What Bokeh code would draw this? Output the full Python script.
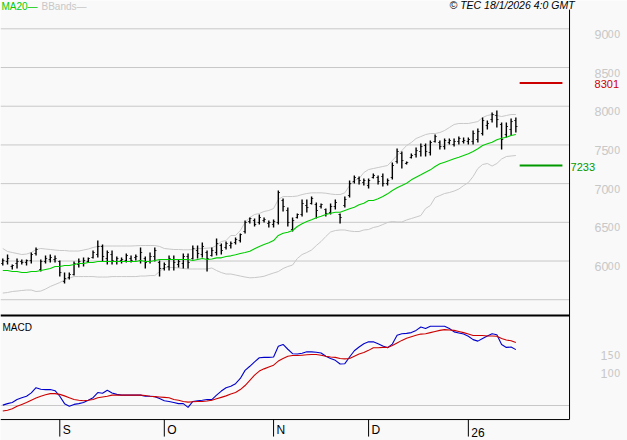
from bokeh.core.properties import value
from bokeh.embed import file_html
from bokeh.models import Label, LinearScale, Range1d
from bokeh.plotting import figure
from bokeh.resources import INLINE

# daily bars
highs = [6032, 6084, 5955, 6032, 6019, 6019, 6110, 6175, 6019, 6071, 6084, 6071, 6006, 5851, 5851, 5993, 6032, 6045, 6045, 6136,
         6265, 6213, 6136, 6136, 6058, 6045, 6097, 6071, 6084, 6175, 6058, 6110, 6175, 6006, 5981, 6071, 6071, 6019, 6097, 6097,
         6200, 6200, 6239, 6136, 6175, 6291, 6226, 6252, 6252, 6304, 6355, 6523, 6562, 6549, 6601, 6562, 6523, 6536, 6911, 6808,
         6691, 6562, 6614, 6795, 6795, 6833, 6756, 6743, 6678, 6743, 6795, 6614, 6833, 7040, 7105, 7092, 7066, 7066, 7130, 7105,
         7130, 7066, 7273, 7453, 7415, 7286, 7389, 7466, 7518, 7518, 7557, 7634, 7557, 7583, 7583, 7583, 7608, 7596, 7596, 7686,
         7712, 7854, 7815, 7919, 7944, 7789, 7789, 7841, 7854]
lows = [5942, 5955, 5890, 5903, 5955, 5942, 5968, 6071, 5864, 5968, 5981, 5981, 5799, 5709, 5761, 5812, 5916, 5929, 5981, 6032,
        6045, 5993, 5955, 5955, 5955, 5968, 5981, 5981, 6006, 5968, 5903, 5968, 5993, 5799, 5877, 5877, 5877, 5916, 5903, 5903,
        6019, 6032, 6045, 5864, 6058, 6071, 6084, 6149, 6162, 6213, 6239, 6355, 6485, 6446, 6472, 6498, 6433, 6433, 6472, 6640,
        6446, 6381, 6549, 6575, 6627, 6730, 6549, 6678, 6575, 6601, 6665, 6485, 6691, 6820, 7001, 6988, 6975, 6937, 7066, 6988,
        6963, 6975, 7053, 7260, 7195, 7247, 7324, 7337, 7350, 7350, 7363, 7531, 7440, 7440, 7505, 7479, 7505, 7518, 7505, 7505,
        7531, 7621, 7699, 7789, 7725, 7440, 7596, 7621, 7660]
opens = [5968, 5993, 5929, 5968, 5993, 5981, 6006, 6097, 5890, 5993, 6019, 6019, 5993, 5735, 5786, 5825, 5955, 5968, 5993, 6045,
         6084, 6188, 6032, 6084, 5993, 6006, 6006, 6032, 6045, 6006, 6032, 5993, 6058, 5981, 5903, 5929, 6019, 5955, 5968, 6058,
         6032, 6136, 6084, 6110, 6071, 6110, 6200, 6175, 6200, 6239, 6265, 6381, 6510, 6523, 6498, 6523, 6485, 6472, 6498, 6782,
         6653, 6407, 6562, 6601, 6717, 6743, 6730, 6704, 6665, 6627, 6704, 6601, 6717, 6846, 7027, 7066, 7014, 6975, 7079, 7079,
         7092, 7001, 7079, 7286, 7389, 7260, 7337, 7376, 7415, 7492, 7402, 7544, 7531, 7479, 7531, 7505, 7544, 7544, 7544, 7544,
         7570, 7647, 7751, 7828, 7880, 7764, 7634, 7699, 7815]
closes = [6006, 6032, 5942, 5993, 5981, 6006, 6084, 6149, 5993, 6032, 6045, 6032, 5851, 5774, 5825, 5968, 5993, 6006, 6032, 6110,
          6188, 6058, 6110, 6006, 6032, 6019, 6071, 6006, 6058, 6110, 5981, 6058, 6136, 5903, 5955, 6032, 5981, 5993, 6058, 5981,
          6162, 6097, 6188, 6032, 6136, 6226, 6136, 6226, 6226, 6278, 6342, 6498, 6549, 6472, 6562, 6536, 6498, 6510, 6885, 6704,
          6498, 6523, 6601, 6743, 6691, 6808, 6653, 6730, 6614, 6704, 6756, 6562, 6795, 7001, 7079, 7040, 7040, 7040, 7105, 7027,
          7001, 7040, 7234, 7415, 7298, 7273, 7363, 7427, 7479, 7415, 7531, 7608, 7479, 7557, 7557, 7544, 7583, 7557, 7570, 7647,
          7673, 7815, 7777, 7893, 7828, 7570, 7738, 7802, 7738]

ma20 = [5877, 5877, 5864, 5864, 5851, 5851, 5864, 5864, 5877, 5890, 5903, 5929, 5929, 5942, 5942, 5955, 5968, 5968, 5981, 5981,
        5993, 5993, 5993, 5993, 5993, 5993, 5993, 5993, 5993, 6006, 5993, 5993, 6006, 6019, 6019, 6019, 6019, 6019, 6019, 6019,
        6006, 6019, 6032, 6019, 6026, 6041, 6041, 6058, 6067, 6080, 6097, 6110, 6127, 6158, 6188, 6213, 6235, 6265, 6330, 6359,
        6372, 6394, 6446, 6481, 6510, 6532, 6558, 6579, 6601, 6618, 6631, 6631, 6653, 6674, 6695, 6726, 6747, 6782, 6782, 6804,
        6833, 6868, 6911, 6946, 6975, 7005, 7049, 7083, 7114, 7147, 7178, 7221, 7256, 7277, 7298, 7320, 7341, 7363, 7385, 7415,
        7450, 7492, 7514, 7535, 7566, 7587, 7600, 7621, 7634]
bb_upper = [6162, 6123, 6110, 6097, 6084, 6090, 6110, 6149, 6162, 6155, 6149, 6142, 6136, 6136, 6129, 6129, 6129, 6142, 6155, 6175,
            6188, 6194, 6194, 6194, 6194, 6194, 6194, 6194, 6197, 6200, 6200, 6200, 6200, 6188, 6162, 6155, 6149, 6149, 6145, 6145,
            6149, 6162, 6162, 6166, 6171, 6200, 6252, 6265, 6330, 6330, 6394, 6498, 6562, 6601, 6614, 6640, 6653, 6678, 6795, 6833,
            6833, 6833, 6840, 6859, 6872, 6881, 6881, 6881, 6876, 6866, 6859, 6859, 6881, 6975, 7040, 7066, 7143, 7182, 7195, 7208,
            7221, 7234, 7298, 7363, 7427, 7492, 7531, 7583, 7608, 7634, 7647, 7647, 7660, 7686, 7725, 7764, 7777, 7777, 7777, 7789,
            7802, 7854, 7880, 7893, 7880, 7867, 7880, 7893, 7893]
bb_lower = [5586, 5593, 5606, 5612, 5619, 5625, 5625, 5606, 5612, 5638, 5671, 5696, 5722, 5755, 5780, 5799, 5799, 5799, 5799, 5799,
            5793, 5793, 5793, 5799, 5799, 5799, 5799, 5799, 5799, 5806, 5806, 5812, 5812, 5864, 5916, 5916, 5916, 5910, 5903, 5897,
            5897, 5897, 5897, 5897, 5910, 5877, 5851, 5832, 5832, 5819, 5806, 5793, 5783, 5786, 5793, 5803, 5825, 5845, 5864, 5903,
            5929, 5948, 6032, 6084, 6110, 6142, 6200, 6252, 6317, 6375, 6394, 6401, 6401, 6388, 6381, 6381, 6401, 6407, 6433, 6446,
            6472, 6498, 6510, 6504, 6504, 6530, 6549, 6568, 6588, 6678, 6717, 6820, 6846, 6872, 6885, 6904, 6930, 6975, 7014, 7092,
            7195, 7247, 7260, 7227, 7260, 7318, 7350, 7357, 7363]

macd = [1, 5, 8, 16, 21, 25, 34, 48, 44, 43, 43, 40, 25, 5, -2, 3, 5, 8, 14, 21,
        35, 33, 41, 34, 30, 28, 28, 28, 28, 28, 25, 25, 24, 19, 13, 11, 8, 5, 5, -5,
        11, 13, 14, 16, 16, 28, 39, 48, 52, 59, 73, 95, 106, 118, 129, 130, 130, 131, 160, 165,
        152, 140, 139, 141, 145, 145, 144, 142, 133, 127, 122, 112, 113, 131, 148, 158, 167, 172, 172, 167,
        161, 156, 166, 190, 194, 195, 197, 203, 212, 208, 214, 214, 214, 214, 208, 199, 196, 193, 187, 178,
        174, 181, 188, 194, 191, 165, 157, 158, 151]
macd_signal = [-15, -13, -9, -2, 3, 8, 14, 20, 25, 29, 32, 32, 30, 26, 21, 16, 14, 13, 14, 16,
               21, 23, 25, 28, 28, 28, 28, 28, 28, 28, 27, 25, 24, 23, 22, 21, 16, 14, 11, 9,
               10, 11, 11, 12, 14, 18, 22, 26, 31, 35, 43, 54, 68, 82, 93, 99, 104, 109, 120, 127,
               133, 135, 135, 136, 137, 138, 138, 136, 133, 131, 130, 127, 126, 127, 133, 139, 143, 149, 156, 156,
               157, 157, 162, 169, 176, 182, 186, 190, 193, 194, 197, 200, 203, 205, 204, 203, 200, 197, 193, 189,
               189, 189, 188, 188, 187, 181, 177, 175, 170]

month_bars = [12, 34, 57, 77, 98]
month_labels = ["S", "O", "N", "D", "26"]
price_grid = [9000, 8500, 8000, 7500, 7000, 6500, 6000, 5500]
price_ticks = [9000, 8500, 8000, 7500, 7000, 6500, 6000]
price_big = ["90", "85", "80", "75", "70", "65", "60"]
price_small = ["00", "00", "00", "00", "00", "00", "00"]
macd_ticks = [150, 100]
macd_big = ["1", "1"]
macd_small = ["50", "00"]
target_up = 8301
target_down = 7233

BG = "#f9f9f9"
GREY = "#c8c8c8"
FONT = value("Liberation Sans")
SMALL_FONT = value("DejaVu Sans")
WIDTH = 627
HEIGHT = 440

bars = list(range(len(closes)))
axis_bar = 119.3  # the vertical rule right of the last bar
left_bar = -0.48
sep_price = 5296  # panel separator
top_price = 9249
bottom_macd = -38

p = figure(width=WIDTH, height=HEIGHT, output_backend="svg", toolbar_location=None,
           x_range=Range1d(left_bar, 131.5), y_range=Range1d(3681, 9366),
           x_axis_type=None, y_axis_type=None, min_border=0,
           background_fill_color=BG, border_fill_color=BG, outline_line_color=None)
p.extra_y_ranges = {"macd": Range1d(-94.6, 1094.6)}
p.extra_y_scales = {"macd": LinearScale()}
p.grid.visible = False
p.styles = {"position": "absolute", "left": "0", "top": "0"}

# grid
p.segment([left_bar] * len(price_grid), price_grid, [axis_bar] * len(price_grid), price_grid,
          line_color=GREY, line_width=1)
p.segment([left_bar], [0], [axis_bar], [0], y_range_name="macd", line_color=GREY, line_width=1)

# bands and moving average under the bars
p.line(bars, bb_upper, line_color=GREY, line_width=1)
p.line(bars, bb_lower, line_color=GREY, line_width=1)

# bars
p.segment(bars, lows, bars, highs, line_color="black", line_width=1.4)
p.segment([b - 0.35 for b in bars], opens, bars, opens, line_color="black", line_width=0.8)
p.segment(bars, closes, [b + 0.35 for b in bars], closes, line_color="black", line_width=0.8)

p.line(bars, ma20, line_color="#00cc00", line_width=1.1)

# targets
p.segment([108.8], [target_up], [117.8], [target_up], line_color="#cc0000", line_width=2)
p.segment([108.8], [target_down], [117.8], [target_down], line_color="#009900", line_width=2)
p.text([axis_bar], [target_up], text=[str(target_up)], x_offset=25, y_offset=1, text_color="#cc0000",
       text_font=FONT, text_font_size="11px", text_baseline="middle")
p.text([axis_bar], [target_down], text=[str(target_down)], x_offset=1, y_offset=1, text_color="#009900",
       text_font=FONT, text_font_size="11px", text_baseline="middle")

# macd
p.line(bars, macd, y_range_name="macd", line_color="#0000cc", line_width=1.1)
p.line(bars, macd_signal, y_range_name="macd", line_color="#cc0000", line_width=1.1)

# frame
p.segment([left_bar], [sep_price], [axis_bar], [sep_price], line_color="black", line_width=2)
p.segment([left_bar], [bottom_macd], [axis_bar], [bottom_macd], y_range_name="macd", line_color="black", line_width=1)
p.segment([axis_bar], [3953], [axis_bar], [top_price], line_color="black", line_width=1)

# months
p.segment(month_bars, [bottom_macd] * 5, month_bars, [-84] * 5, y_range_name="macd", line_color="black", line_width=1)
p.text(month_bars, [-86] * 5, text=month_labels, y_range_name="macd", x_offset=3, text_font=FONT,
       text_font_size="12px", text_color="black", text_baseline="bottom")

# right scales, big digits then small ones
p.text([axis_bar] * 7, price_ticks, text=price_big, x_offset=25, y_offset=1, text_color=GREY,
       text_font=FONT, text_font_size="12.5px", text_baseline="top")
p.text([axis_bar] * 7, price_ticks, text=price_small, x_offset=38, y_offset=1, text_color=GREY,
       text_font=SMALL_FONT, text_font_size="10px", text_baseline="top")
p.text([axis_bar] * 2, macd_ticks, text=macd_big, y_range_name="macd", x_offset=31, y_offset=1, text_color=GREY,
       text_font=FONT, text_font_size="12.5px", text_baseline="top")
p.text([axis_bar] * 2, macd_ticks, text=macd_small, y_range_name="macd", x_offset=38, y_offset=1, text_color=GREY,
       text_font=SMALL_FONT, text_font_size="10px", text_baseline="top")

# headers
p.add_layout(Label(x=1, y=HEIGHT - 11, x_units="screen", y_units="screen", text="MA20—", text_color="#00cc00",
                   text_font="Liberation Sans", text_font_size="10px"))
p.add_layout(Label(x=41, y=HEIGHT - 11, x_units="screen", y_units="screen", text="BBands—", text_color=GREY,
                   text_font="Liberation Sans", text_font_size="10px"))
p.add_layout(Label(x=449, y=HEIGHT - 10, x_units="screen", y_units="screen", text="© TEC 18/1/2026 4:0 GMT",
                   text_color="black", text_font="Liberation Sans", text_font_size="10.5px", text_font_style="italic"))
p.add_layout(Label(x=2, y=HEIGHT - 332, x_units="screen", y_units="screen", text="MACD", text_color="black",
                   text_font="Liberation Sans", text_font_size="10px"))

open("out.html", "w").write(file_html(p, INLINE))
